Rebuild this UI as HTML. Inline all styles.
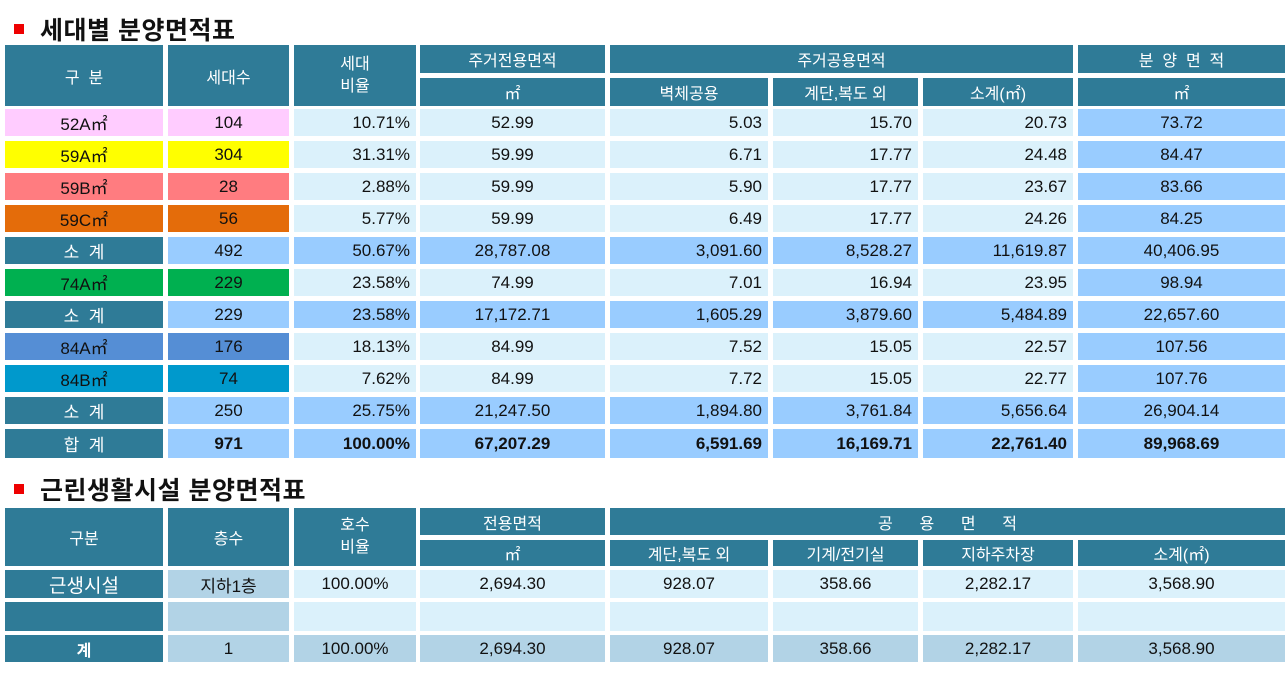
<!DOCTYPE html>
<html><head><meta charset="utf-8"><style>
body{margin:0;width:1285px;height:677px;background:#fff;position:relative;overflow:hidden;font-family:"Liberation Sans","Noto Sans CJK KR",sans-serif;}
.c{position:absolute;box-sizing:border-box;display:flex;align-items:center;justify-content:center;font-size:17px;color:#111;white-space:nowrap;}
.h{background:#2f7b97;color:#fff;font-size:16px;}
.r{justify-content:flex-end;padding-right:6px;}
.t{position:absolute;font-weight:bold;font-size:25px;color:#111;letter-spacing:0.5px;}
.sq{position:absolute;width:10px;height:10px;background:#e00;}
</style></head><body>
<div class="sq" style="left:14px;top:24px"></div><div class="t" style="left:40px;top:11px">세대별 분양면적표</div>
<div class="sq" style="left:14px;top:484px"></div><div class="t" style="left:40px;top:471px">근린생활시설 분양면적표</div>
<div id="a"></div>
<script>
var X=[[5,163],[168,289],[294,416],[420,605],[610,768],[773,918],[923,1073],[1078,1285]];
var out='';
function cell(c0,c1,y0,y1,txt,bg,cls,extra){out+='<div class="c '+(cls||'')+'" style="left:'+X[c0][0]+'px;width:'+(X[c1][1]-X[c0][0])+'px;top:'+y0+'px;height:'+(y1-y0)+'px;background:'+bg+';'+(extra||'')+'">'+txt+'</div>';}
var T='#2f7b97',L='#dbf1fb',B='#99ccff',S='#b2d3e6';
cell(0,0,45,106,'구&nbsp;&nbsp;분',T,'h');cell(1,1,45,106,'세대수',T,'h');cell(2,2,45,106,'세대<br>비율',T,'h','text-align:center;line-height:22px');
cell(3,3,45,73,'주거전용면적',T,'h');cell(4,6,45,73,'주거공용면적',T,'h');cell(7,7,45,73,'분&nbsp;&nbsp;양&nbsp;&nbsp;면&nbsp;&nbsp;적',T,'h');
cell(3,3,78,106,'㎡',T,'h');cell(4,4,78,106,'벽체공용',T,'h');cell(5,5,78,106,'계단,복도 외',T,'h');cell(6,6,78,106,'소계(㎡)',T,'h');cell(7,7,78,106,'㎡',T,'h');
var rows=[
['52A㎡','#ffccff','104','10.71%','52.99','5.03','15.70','20.73','73.72',0],
['59A㎡','#ffff00','304','31.31%','59.99','6.71','17.77','24.48','84.47',0],
['59B㎡','#ff7c80','28','2.88%','59.99','5.90','17.77','23.67','83.66',0],
['59C㎡','#e46c0a','56','5.77%','59.99','6.49','17.77','24.26','84.25',0],
['소&nbsp;&nbsp;계',T,'492','50.67%','28,787.08','3,091.60','8,528.27','11,619.87','40,406.95',1],
['74A㎡','#00b050','229','23.58%','74.99','7.01','16.94','23.95','98.94',0],
['소&nbsp;&nbsp;계',T,'229','23.58%','17,172.71','1,605.29','3,879.60','5,484.89','22,657.60',1],
['84A㎡','#558ed5','176','18.13%','84.99','7.52','15.05','22.57','107.56',0],
['84B㎡','#0099cc','74','7.62%','84.99','7.72','15.05','22.77','107.76',0],
['소&nbsp;&nbsp;계',T,'250','25.75%','21,247.50','1,894.80','3,761.84','5,656.64','26,904.14',1],
['합&nbsp;&nbsp;계',T,'971','100.00%','67,207.29','6,591.69','16,169.71','22,761.40','89,968.69',2]];
rows.forEach(function(r,i){var y=109+i*32,y1=y+27+(i==10?2:0);var s=r[9];
 var ex=s==2?'font-weight:bold;':'';
 cell(0,0,y,y1,r[0],r[1],s?'h':'',s?'font-size:17px;':'');
 cell(1,1,y,y1,r[2],s?B:r[1],'',ex);
 var bg=s?B:L;
 cell(2,2,y,y1,r[3],bg,'r',ex);cell(3,3,y,y1,r[4],bg,'',ex);
 cell(4,4,y,y1,r[5],bg,'r',ex);cell(5,5,y,y1,r[6],bg,'r',ex);cell(6,6,y,y1,r[7],bg,'r',ex);
 cell(7,7,y,y1,r[8],B,'',ex);});
cell(0,0,508,566,'구분',T,'h');cell(1,1,508,566,'층수',T,'h');cell(2,2,508,566,'호수<br>비율',T,'h','text-align:center;line-height:22px');
cell(3,3,508,535,'전용면적',T,'h');cell(4,7,508,535,'공&nbsp;&nbsp;&nbsp;&nbsp;&nbsp;&nbsp;용&nbsp;&nbsp;&nbsp;&nbsp;&nbsp;&nbsp;면&nbsp;&nbsp;&nbsp;&nbsp;&nbsp;&nbsp;적',T,'h');
cell(3,3,540,566,'㎡',T,'h');cell(4,4,540,566,'계단,복도 외',T,'h');cell(5,5,540,566,'기계/전기실',T,'h');cell(6,6,540,566,'지하주차장',T,'h');cell(7,7,540,566,'소계(㎡)',T,'h');
var r2=[['근생시설','지하1층','100.00%','2,694.30','928.07','358.66','2,282.17','3,568.90'],['','','','','','','',''],['계','1','100.00%','2,694.30','928.07','358.66','2,282.17','3,568.90']];
var ys=[[570,598],[602,631],[635,662]];
r2.forEach(function(r,i){var y=ys[i][0],y1=ys[i][1];
 cell(0,0,y,y1,r[0],T,'h',i==0?'font-size:19px;':'font-weight:bold;');
 cell(1,1,y,y1,r[1],S,'');
 for(var k=2;k<8;k++)cell(k,k,y,y1,r[k],i==2?S:L,'');});
document.getElementById('a').innerHTML=out;
</script>
</body></html>
